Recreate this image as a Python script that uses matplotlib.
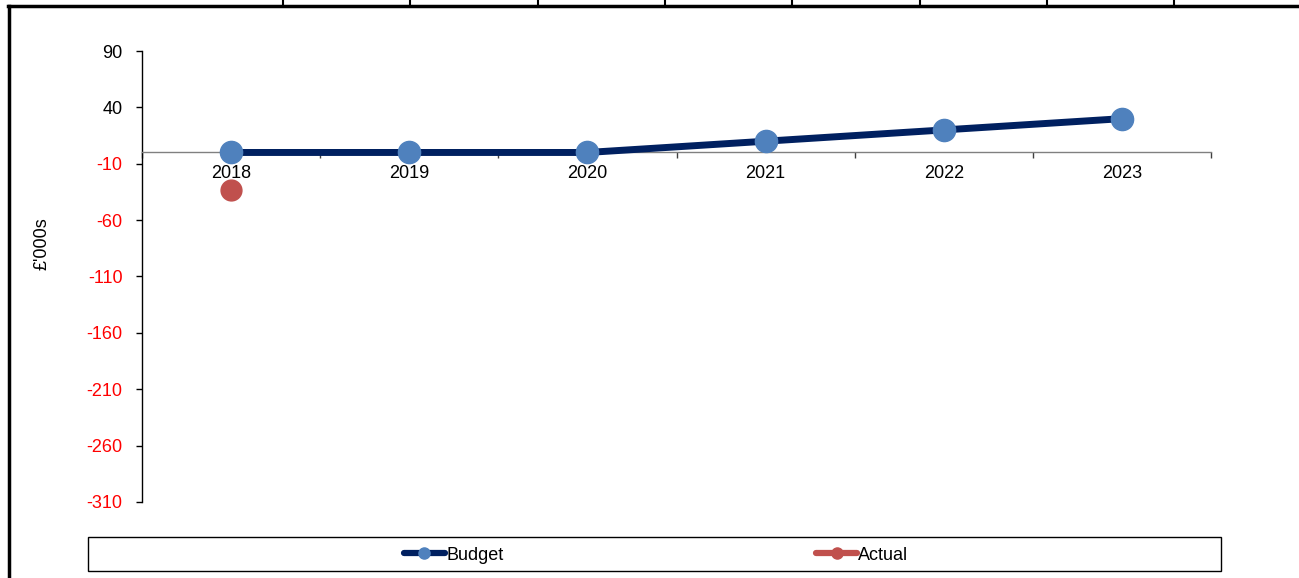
import numpy as np
import matplotlib
matplotlib.use("Agg")
from matplotlib import pyplot as plt
from matplotlib.lines import Line2D
from matplotlib.patches import Rectangle

plt.rcParams['font.family'] = ['Liberation Sans', 'DejaVu Sans']
plt.rcParams['axes.unicode_minus'] = False

# Data
years = ['2018', '2019', '2020', '2021', '2022', '2023']
budget = [0, 0, 0, 10, 20, 30]
actual = [-33, np.nan, np.nan, np.nan, np.nan, np.nan]
yticks = [90, 40, -10, -60, -110, -160, -210, -260, -310]

navy = '#002060'
blue = '#4F81BD'
red = '#C0504D'
fs = 13

fig = plt.figure(figsize=(12.99, 5.78), dpi=100)
W, H = 1299, 578

ax = fig.add_axes([142 / W, 1 - 502 / H, (1211 - 142) / W, (502 - 51) / H])
x = np.arange(len(years))

ax.plot(x, budget, color=navy, lw=5, marker='o', ms=16,
        mfc=blue, mec=blue, solid_capstyle='butt', zorder=3)
ax.plot(x, actual, color=red, lw=5, marker='o', ms=15,
        mfc=red, mec=red, zorder=3)

ax.set_xlim(-0.5, len(years) - 0.5)
ax.set_ylim(min(yticks), max(yticks))

# axes look
ax.spines['top'].set_visible(False)
ax.spines['right'].set_visible(False)
ax.spines['bottom'].set_position(('data', 0))
ax.spines['bottom'].set_color('#808080')
ax.spines['bottom'].set_linewidth(1.0)
ax.spines['left'].set_color('black')
ax.spines['left'].set_linewidth(1.0)

ax.set_xticks(x)
ax.set_xticklabels(years, fontsize=fs)
ax.tick_params(axis='x', which='major', length=0, pad=9)
ax.set_xticks(np.arange(len(years) + 1) - 0.5, minor=True)
ax.tick_params(axis='x', which='minor', length=4, width=1, color='#404040', direction='out')

ax.set_yticks(yticks)
ax.set_yticklabels([str(v) for v in yticks], fontsize=fs)
ax.tick_params(axis='y', length=4, width=1, pad=10, direction='out')
for lab, v in zip(ax.get_yticklabels(), yticks):
    lab.set_color('red' if v < 0 else 'black')

fig.text(42 / W, 1 - 244 / H, "£'000s", rotation=90, fontsize=fs,
         ha='center', va='center')

# legend box
fig.patches.append(Rectangle((88 / W, 1 - 571 / H), (1221 - 88) / W, (571 - 537) / H,
                             transform=fig.transFigure, fill=False,
                             edgecolor='black', lw=1))
handles = [
    Line2D([], [], color=navy, lw=4.5, marker='o', ms=8, mfc=blue, mec=blue,
           solid_capstyle='round'),
    Line2D([], [], color=red, lw=4.5, marker='o', ms=8, mfc=red, mec=red,
           solid_capstyle='round'),
]
fig.legend(handles, ['Budget', 'Actual'], ncol=2, frameon=False,
           loc='center', bbox_to_anchor=(656 / W, 1 - 555 / H),
           fontsize=fs, handlelength=2.3, handletextpad=0.05,
           columnspacing=17.3)

# spreadsheet border bits
fig.add_artist(Line2D([8 / W, 1298 / W], [1 - 6 / H, 1 - 6 / H],
                      transform=fig.transFigure, color='black', lw=2.5))
fig.add_artist(Line2D([8.5 / W, 8.5 / W], [0, 1 - 6 / H],
                      transform=fig.transFigure, color='black', lw=2.5))
for px in [283, 410, 538, 665, 792, 920, 1047, 1174]:
    fig.add_artist(Line2D([px / W, px / W], [1 - 6 / H, 1],
                          transform=fig.transFigure, color='black', lw=1.5))

fig.savefig("out.png", dpi=100)
